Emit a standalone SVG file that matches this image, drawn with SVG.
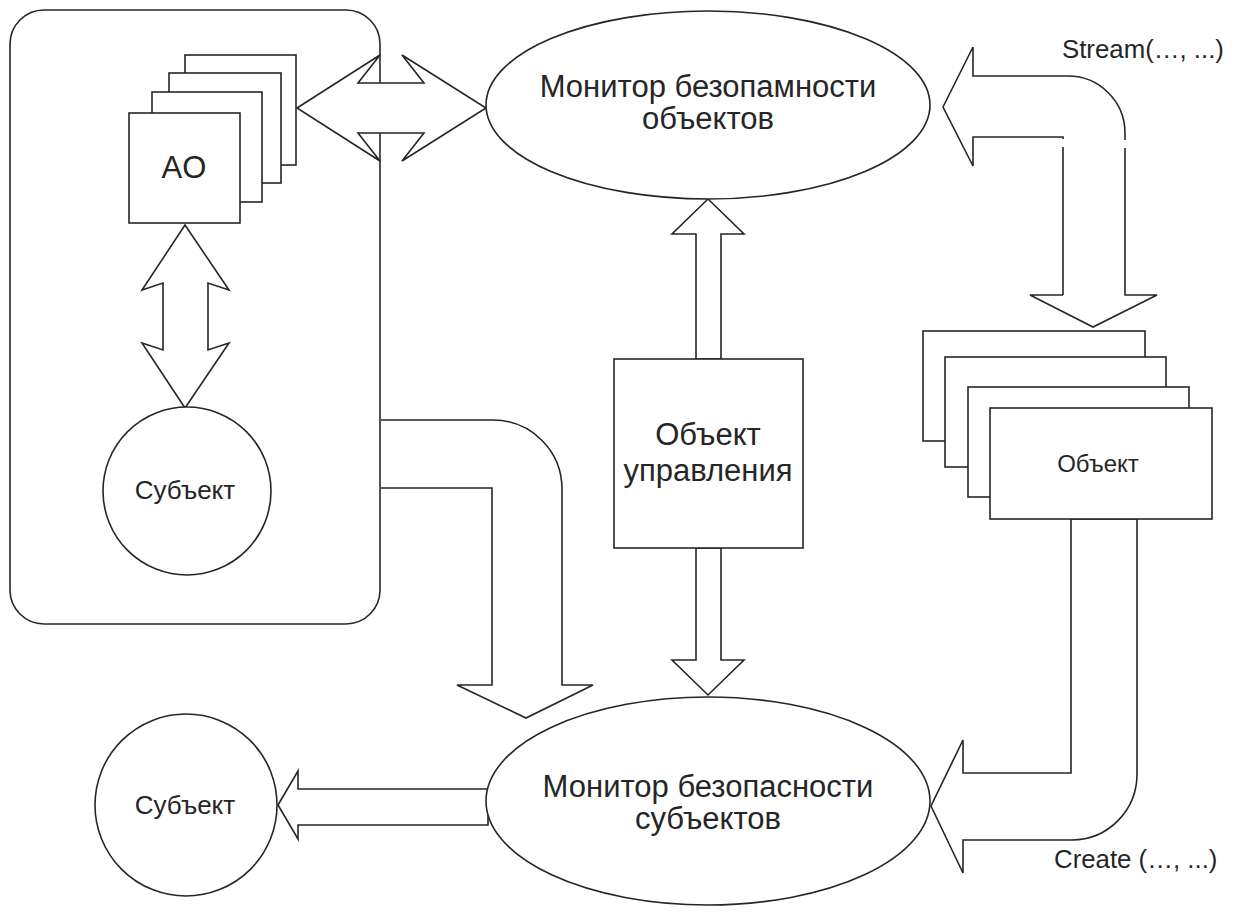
<svg xmlns="http://www.w3.org/2000/svg" width="1236" height="917" viewBox="0 0 1236 917">
<style>
.s{fill:#fff;stroke:#262626;stroke-width:1.6;stroke-linejoin:miter}
.n{fill:none;stroke:#262626;stroke-width:1.6}
.f{fill:#fff;stroke:none}
text{font-family:"Liberation Sans",Arial,sans-serif;fill:#262626;text-anchor:middle}
.b{font-size:31px}
.m{font-size:26px}
.l{font-size:25.8px;text-anchor:start}
</style>
<rect width="1236" height="917" fill="#fff"/>
<g id="container">
<rect x="10" y="10" width="370" height="614" rx="34" ry="34" class="n"/>
</g>
<g id="connectors">
<path class="s" d="M297,108 L380,55 L358,83 L424,83 L402,55 L486,108 L402,161 L424,133 L358,133 L380,161 Z"/>
<path class="s" d="M185,225 L229,290 L208,283 L208,350 L229,343 L185,408 L142,343 L163,350 L163,283 L142,290 Z"/>
<path class="s" d="M708,199 L744,234 L721,234 L721,359 L696,359 L696,234 L672,234 Z"/>
<path class="s" d="M696,548 L721,548 L721,660 L744,660 L708,695 L672,660 L696,660 Z"/>
<path class="s" d="M381,420 L493,420 A69,69 0 0 1 562,489 L562,685 L593,685 L526,718 L457,685 L492,685 L492,488 L381,488"/>
<path class="s" d="M278,805 L298,771 L298,789 L488,789 L488,825 L298,825 L298,839 Z"/>
<path class="f" d="M943,107 L973,47 L973,76 L1068,76 A57,57 0 0 1 1125,133 L1125,295 L1157,295 L1093,327 L1030,295 L1063,295 L1063,137 L973,137 L973,166 Z"/>
<path class="n" d="M1063,295 L1030,295 L1093,327 L1157,295 L1125,295 L1125,148 M1125,140 L1125,133 A57,57 0 0 0 1068,76 L973,76 L973,47 L943,107 L973,166 L973,137 L1063,137 L1063,139 M1063,147 L1063,295"/>
<path class="s" d="M1071,519 L1071,773 L963,773 L963,740 L931,806 L963,873 L963,840 L1072,840 A65,66 0 0 0 1137,774 L1137,519 Z"/>
</g>
<g id="ao-stack">
<rect x="185" y="55" width="111" height="110" class="s"/>
<rect x="169" y="73" width="112" height="110" class="s"/>
<rect x="152" y="92" width="110" height="110" class="s"/>
<rect x="129" y="113" width="111" height="110" class="s"/>
<text x="184" y="178" class="b">AO</text>
</g>
<g id="subject-inner">
<circle cx="187" cy="491" r="84" class="s"/>
<text x="185" y="499" class="m">Субъект</text>
</g>
<g id="monitor-objects">
<ellipse cx="708" cy="105" rx="222" ry="94" class="s"/>
<text x="708" y="97" class="b">Монитор безопамности</text>
<text x="708" y="129" class="b">объектов</text>
</g>
<g id="control-object">
<rect x="614" y="359" width="189" height="189" class="s"/>
<text x="708" y="445" class="b">Объект</text>
<text x="708" y="481" class="b">управления</text>
</g>
<g id="object-stack">
<rect x="923" y="331" width="222" height="110" class="s"/>
<rect x="945" y="357" width="221" height="110" class="s"/>
<rect x="968" y="387" width="221" height="110" class="s"/>
<rect x="990" y="408" width="222" height="111" class="s"/>
<text x="1098" y="472" style="font-size:24px">Объект</text>
</g>
<g id="monitor-subjects">
<ellipse cx="708" cy="801" rx="222" ry="104" class="s"/>
<text x="708" y="797" class="b">Монитор безопасности</text>
<text x="708" y="829" class="b">субъектов</text>
</g>
<g id="subject-outer">
<circle cx="186" cy="805" r="91" class="s"/>
<text x="185" y="814" class="m">Субъект</text>
</g>
<g id="labels">
<text x="1062" y="58" class="l">Stream(…, ...)</text>
<text x="1054" y="868" class="l">Create (…, ...)</text>
</g>
</svg>
